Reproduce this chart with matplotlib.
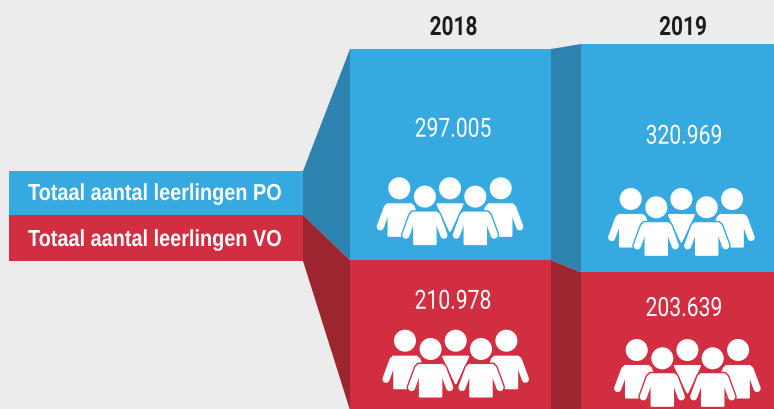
import matplotlib
matplotlib.use('Agg')
import matplotlib.pyplot as plt
from matplotlib.patches import Ellipse, Polygon
from matplotlib.patheffects import AbstractPathEffect
from matplotlib.transforms import Affine2D

# data
years = ['2018', '2019']
po_values = [297005, 320969]
vo_values = [210978, 203639]
po_labels = ['297.005', '320.969']
vo_labels = ['210.978', '203.639']
legend_labels = ['Totaal aantal leerlingen PO', 'Totaal aantal leerlingen VO']

BG = '#ececec'
BLUE = '#36a9e1'
RED = '#d22e41'
DARK_BLUE = '#2d83b0'
DARK_RED = '#9c2630'
WHITE = '#ffffff'

# pixels per pupil, the column heights are to scale
PX = 0.000711


# no condensed font installed, so squeeze the glyphs sideways around x0 (in pixels)
class Squeeze(AbstractPathEffect):
    def __init__(self, x0, sx):
        super().__init__()
        self.x0 = x0
        self.sx = sx

    def draw_path(self, renderer, gc, tpath, affine, rgbFace=None):
        squeeze = Affine2D().translate(-self.x0, 0).scale(self.sx, 1).translate(self.x0, 0)
        renderer.draw_path(gc, tpath, affine + squeeze, rgbFace)


fig = plt.figure(figsize=(7.74, 4.09), dpi=100, facecolor=BG)
ax = fig.add_axes([0, 0, 1, 1])
ax.set_xlim(0, 774)
ax.set_ylim(409 / PX, 0)
ax.axis('off')

col_left = [350, 581]
col_width = [201, 193]
col_top = [49 / PX, 44 / PX]
po_bottom = [col_top[i] + po_values[i] for i in range(2)]
vo_bottom = [po_bottom[i] + vo_values[i] for i in range(2)]

# columns
for i in range(2):
    ax.bar(col_left[i], po_values[i], col_width[i], bottom=col_top[i], align='edge', color=BLUE, lw=0)
    ax.bar(col_left[i], vo_values[i], col_width[i], bottom=po_bottom[i], align='edge', color=RED, lw=0)

# legend block on the left
ax.bar(9, 44 / PX, 294, bottom=171 / PX, align='edge', color=BLUE, lw=0)
ax.bar(9, 46 / PX, 294, bottom=215 / PX, align='edge', color=RED, lw=0)

# side panels between the blocks
ax.add_patch(Polygon([(303, 171 / PX), (350, col_top[0]), (350, po_bottom[0]), (303, 215 / PX)], fc=DARK_BLUE, lw=0))
ax.add_patch(Polygon([(303, 215 / PX), (350, po_bottom[0]), (350, vo_bottom[0]), (303, 261 / PX)], fc=DARK_RED, lw=0))
ax.add_patch(Polygon([(551, col_top[0]), (581, col_top[1]), (581, po_bottom[1]), (551, po_bottom[0])], fc=DARK_BLUE, lw=0))
ax.add_patch(Polygon([(551, po_bottom[0]), (581, po_bottom[1]), (581, vo_bottom[1]), (551, vo_bottom[0])], fc=DARK_RED, lw=0))

TORSO = [(-12, 16), (12, 16), (10.7, 30), (10.7, 47.5), (-10.7, 47.5), (-10.7, 30)]
VEE = [(-12.5, 16), (12.5, 16), (0, 42.5)]
ARMS = [[(-12, 19.5), (-19, 38.5)], [(12, 19.5), (19, 38.5)]]


def person(cx, cy, shape, arms, bg, z):
    # shape and arms are in pixels relative to the head centre
    pts = [(cx + dx, (cy + dy) / PX) for dx, dy in shape]
    ax.add_patch(Polygon(pts, fc=bg, ec=bg, lw=3.6, joinstyle='round', zorder=z))
    ax.add_patch(Polygon(pts, fc=WHITE, ec=WHITE, lw=1.5, joinstyle='round', zorder=z + 0.2))
    for arm in arms:
        xs = [cx + p[0] for p in arm]
        ys = [(cy + p[1]) / PX for p in arm]
        ax.plot(xs, ys, color=bg, lw=7.2, solid_capstyle='round', zorder=z + 0.1)
        ax.plot(xs, ys, color=WHITE, lw=5.2, solid_capstyle='round', zorder=z + 0.2)
    ax.add_patch(Ellipse((cx, cy / PX), 25, 25 / PX, fc=bg, lw=0, zorder=z + 0.1))
    ax.add_patch(Ellipse((cx, cy / PX), 22, 22 / PX, fc=WHITE, lw=0, zorder=z + 0.2))


def people(x, y, bg):
    # x, y is the head of the first person on the left
    person(x, y, TORSO, ARMS, bg, 3)
    person(x + 101.4, y, TORSO, ARMS, bg, 3)
    person(x + 50.7, y, VEE, [], bg, 4)
    person(x + 25.6, y + 8.3, TORSO, ARMS, bg, 5)
    person(x + 76, y + 8.3, TORSO, ARMS, bg, 6)


people(399.3, 188.3, BLUE)
people(405, 340.7, RED)
people(630.7, 199, BLUE)
people(636.7, 350, RED)


def label(x, y, s, color, size, font, weight, ha, sx):
    ax.text(x, y / PX, s, color=color, fontsize=size, fontweight=weight, family=font,
            ha=ha, va='baseline', path_effects=[Squeeze(x, sx)])


# texts
year_x = [453.5, 683]
num_x = [453, 684]
po_y = [136.7, 143.7]
vo_y = [308.7, 316]
for i in range(2):
    label(year_x[i], 35, years[i], '#1d1d1b', 19, 'Roboto', 'bold', 'center', 0.79)
    label(num_x[i], po_y[i], po_labels[i], WHITE, 19, 'Roboto', 'normal', 'center', 0.8)
    label(num_x[i], vo_y[i], vo_labels[i], WHITE, 19, 'Roboto', 'normal', 'center', 0.8)

label(28, 200, legend_labels[0], WHITE, 16.7, 'Liberation Sans', 'bold', 'left', 0.857)
label(28, 246, legend_labels[1], WHITE, 16.7, 'Liberation Sans', 'bold', 'left', 0.857)

fig.savefig('out.png', dpi=100, facecolor=BG)
